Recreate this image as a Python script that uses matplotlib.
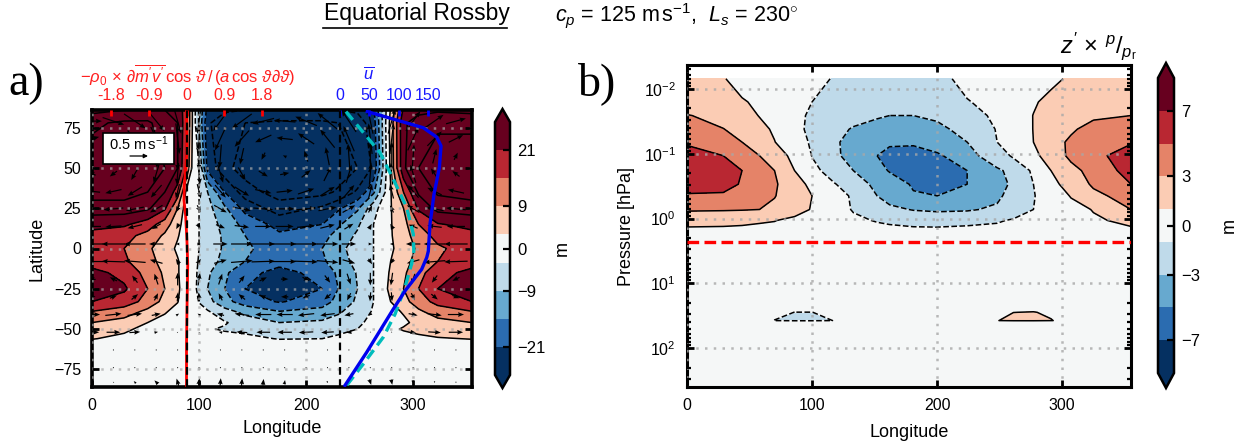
import numpy as np
import matplotlib
matplotlib.use("Agg")
import matplotlib.pyplot as plt
from matplotlib.colors import ListedColormap, BoundaryNorm
from matplotlib.lines import Line2D
from matplotlib.patches import Rectangle
from matplotlib.ticker import LogLocator, NullFormatter

plt.rcParams["font.family"] = ["Liberation Sans", "DejaVu Sans"]
plt.rcParams["mathtext.fontset"] = "custom"
plt.rcParams["mathtext.rm"] = "Liberation Sans"
plt.rcParams["mathtext.it"] = "Liberation Sans:italic"
plt.rcParams["mathtext.bf"] = "Liberation Sans:bold"
plt.rcParams["mathtext.fallback"] = "cm"

W, H = 1242.0, 447.0

colours = ["#053061", "#2b6cb0", "#67a9cf", "#bfdaea", "#f5f7f7", "#fbccb4", "#e58368", "#b92732", "#67001f"]
levels_a = [-27, -21, -15, -9, -3, 3, 9, 15, 21, 27]
lines_a = [-33, -27, -21, -15, -9, -3, 3, 9, 15, 21, 27, 33]
ticks_a = [-21, -9, 0, 9, 21]
levels_b = [-9, -7, -5, -3, -1, 1, 3, 5, 7, 9]
lines_b = [-7, -5, -3, -1, 1, 3, 5, 7]
ticks_b = [-7, -3, 0, 3, 7]

# panel a, z' by latitude row
lon_a = [0, 30, 52, 68, 80, 88, 95, 100, 108, 124, 143, 175, 215, 230, 248, 263, 276, 291, 305, 323, 355]
lat_a = [86, 78, 50, 35, 25, 15, 8, 0, -8, -15, -25, -33, -39, -46, -50, -56, -60, -75, -86]
za_86 = [25, 27, 28, 27, 26, 17, 0, -10, -23, -26, -27, -28, -28, -27, -26, -22, -1, 22, 25, 26, 25]
za_78 = [32, 34, 34, 30, 27, 17, 0, -10, -26, -31, -33, -34, -34, -33, -30, -24, 0, 26, 30, 32, 32]
za_50 = [36, 38, 37, 33, 27, 15, -1, -3, -23, -31, -36, -38, -38, -37, -33, -26, -1, 26, 33, 36, 36]
za_35 = [36, 36, 33, 27, 18, 2, -1, -3, -9, -21, -30, -36, -35, -32, -26, -16, -0.5, 15, 28, 34, 36]
za_25 = [30, 30, 28, 22, 9, 0, -1, -3, -7, -14, -23, -30, -26, -22, -16, -5, 1, 9, 22, 29, 30]
za_15 = [23, 22, 18, 12, 5, 0, -1, -3, -6, -11, -17, -23, -21, -16, -10, -3, 1.5, 7, 15, 20.5, 23]
za_08 = [19, 17, 13, 8, 3.5, 0, -1, -3, -5.5, -10, -15, -20, -17, -13, -8, -3, 1.5, 6.5, 12, 17, 19]
za_00 = [18, 15, 10, 6, 2, 0, -1, -3, -5, -10, -14, -18, -15, -11, -6, -3, 1, 6, 10, 14, 18]
za_m08 = [18, 16, 11, 7, 3.5, 0, -1, -3.5, -6, -11, -15, -19, -16, -12, -7, -3, 2, 7, 11, 15, 18]
za_m15 = [23, 19, 13, 8, 3.5, 0, -1.5, -4, -8, -14, -19, -23, -19, -14, -8.5, -3, 2.5, 8, 13, 18.5, 23]
za_m25 = [26, 22, 15, 9, 4, 0, -2, -4, -9, -15, -21, -26, -21, -15, -9, -3, 3, 9, 15, 21, 26]
za_m33 = [21, 18, 13, 7, 3.2, 0, -1, -3.2, -7, -13, -18, -21.5, -18, -13, -8, -3, 2, 7, 12, 17, 21]
za_m39 = [15, 12.5, 7.5, 3.5, 1.5, 0, -0.5, -1.5, -2.5, -7, -11, -15, -13, -10, -6, -2.5, 1, 3.5, 8, 12, 15]
za_m46 = [9, 6.5, 3, 1.5, 0.6, 0, -0.2, -0.5, -1, -2.5, -5.5, -9, -8, -6.5, -4, -1.5, 0.5, 2, 4.5, 7, 9]
za_m50 = [6, 3.8, 1.8, 1, 0.4, 0, -0.1, -0.3, -2.5, -3.6, -4, -6, -5.5, -4.5, -3, -0.8, 1.5, 3.5, 4.5, 5.5, 6]
za_m56 = [3.2, 2, 1, 0.5, 0.2, 0, 0, -0.2, -0.5, -1, -2, -3.2, -3, -2, -1, -0.4, 0.1, 0.8, 1.8, 2.6, 3.2]
za_m60 = [1, 0.7, 0.4, 0.2, 0.1, 0, 0, -0.1, -0.2, -0.4, -0.7, -1, -1, -0.7, -0.4, -0.1, 0, 0.3, 0.6, 0.8, 1]
za_m75 = [0.3, 0.2, 0.1, 0.1, 0, 0, 0, 0, -0.1, -0.1, -0.2, -0.3, -0.3, -0.2, -0.1, 0, 0, 0.1, 0.2, 0.2, 0.3]
za_m86 = [0.2, 0.2, 0.1, 0.1, 0, 0, 0, 0, -0.1, -0.1, -0.2, -0.2, -0.2, -0.2, -0.1, 0, 0, 0.1, 0.1, 0.2, 0.2]
z_a = [za_86, za_78, za_50, za_35, za_25, za_15, za_08, za_00, za_m08, za_m15, za_m25, za_m33,
       za_m39, za_m46, za_m50, za_m56, za_m60, za_m75, za_m86]

# panel a, wind arrows
lon_q = [0, 20, 40, 60, 80, 100, 120, 140, 160, 180, 200, 220, 240, 260, 280, 300, 320, 340]
lat_q = [79.1, 68.2, 57.3, 46.4, 35.5, 24.6, 13.7, 2.8, -8.1, -19, -30, -41, -52, -63, -74, -83]
u_79 = [.55, .6, .6, .45, .2, -.1, -.4, -.55, -.6, -.6, -.6, -.55, -.4, -.15, .2, .4, .5, .55]
v_79 = [0, -.2, -.4, -.55, -.7, -.7, -.55, -.4, -.15, .05, .25, .45, .6, .7, .7, .55, .35, .15]
u_68 = [.4, .45, .4, .3, .1, -.05, -.3, -.4, -.45, -.45, -.45, -.4, -.3, -.1, .1, .3, .4, .4]
v_68 = [.1, -.2, -.45, -.65, -.85, -.85, -.65, -.45, -.2, .05, .3, .5, .7, .85, .85, .65, .4, .2]
u_57 = [.1, .1, .1, .05, 0, 0, -.05, -.1, -.1, -.1, -.1, -.1, -.05, 0, 0, .05, .1, .1]
v_57 = [.1, -.2, -.45, -.65, -.8, -.8, -.65, -.45, -.2, .05, .3, .5, .7, .8, .8, .65, .4, .2]
u_46 = [-.2, -.2, -.2, -.15, -.05, .05, .15, .2, .25, .25, .25, .2, .15, .05, -.05, -.15, -.2, -.2]
v_46 = [.08, -.15, -.35, -.5, -.6, -.6, -.5, -.35, -.15, .05, .2, .4, .5, .6, .6, .5, .3, .15]
u_35 = [-.45, -.45, -.4, -.3, -.1, .1, .3, .4, .45, .45, .45, .4, .3, .1, -.1, -.3, -.4, -.45]
v_35 = [.05, -.1, -.25, -.35, -.4, -.4, -.35, -.25, -.1, .05, .15, .25, .35, .4, .4, .35, .2, .1]
u_24 = [-.55, -.55, -.5, -.35, -.1, .1, .35, .5, .55, .55, .55, .5, .35, .1, -.1, -.35, -.5, -.55]
v_24 = [0, -.05, -.1, -.2, -.2, -.2, -.2, -.1, -.05, 0, .05, .1, .2, .2, .2, .2, .1, .05]
u_13 = [-.5, -.45, -.4, -.25, -.08, .08, .25, .4, .45, .5, .5, .4, .25, .08, -.08, -.25, -.4, -.5]
v_13 = [0, -.03, -.1, -.15, -.15, -.15, -.1, -.05, 0, 0, .05, .1, .15, .15, .15, .1, .05, 0]
u_02 = [-.65, -.65, -.6, -.4, -.1, .1, .4, .6, .65, .65, .65, .6, .4, .1, -.1, -.4, -.6, -.65]
v_02 = [0, 0, 0, 0, 0, 0, 0, 0, 0, 0, 0, 0, 0, 0, 0, 0, 0, 0]
u_m08 = [-.65, -.65, -.6, -.35, -.1, .1, .35, .6, .65, .65, .65, .6, .35, .1, -.1, -.35, -.6, -.65]
v_m08 = [0, .02, .05, .1, .15, .15, .1, .05, .02, 0, -.02, -.05, -.1, -.15, -.15, -.1, -.05, -.02]
u_m19 = [-.2, -.2, -.15, -.1, 0, .05, .1, .15, .2, .2, .2, .15, .1, 0, -.05, -.1, -.15, -.2]
v_m19 = [.02, .1, .2, .3, .35, .35, .3, .2, .1, 0, -.1, -.2, -.3, -.35, -.35, -.3, -.2, -.1]
u_m30 = [.2, .2, .18, .1, .02, -.02, -.1, -.18, -.2, -.2, -.2, -.18, -.1, -.02, .02, .1, .18, .2]
v_m30 = [.02, .08, .15, .2, .25, .25, .2, .15, .08, 0, -.08, -.15, -.2, -.25, -.25, -.2, -.15, -.08]
u_m41 = [.45, .45, .4, .25, .08, -.08, -.2, -.4, -.45, -.45, -.45, -.4, -.25, -.08, .08, .25, .4, .45]
v_m41 = [0, .05, .05, .05, .05, .05, .05, .05, 0, 0, -.05, -.05, -.05, -.05, -.05, -.05, -.05, 0]
u_m52 = [.4, .38, .3, .1, .03, -.03, -.1, -.3, -.38, -.4, -.4, -.35, -.15, -.03, .03, .15, .35, .4]
v_m52 = [0, 0, .02, .02, .02, .02, .02, .02, 0, 0, -.02, -.02, -.02, -.02, -.02, -.02, -.02, 0]
u_m63 = [.02, .02, .02, .01, .01, -.01, -.01, -.02, -.02, -.02, -.02, -.02, -.01, -.01, .01, .01, .02, .02]
v_m63 = [0, 0, 0, 0, 0, 0, 0, 0, 0, 0, 0, 0, 0, 0, 0, 0, 0, 0]
u_m74 = [.03, .03, .02, .02, .01, -.01, -.02, -.02, -.03, -.03, -.03, -.02, -.02, -.01, .01, .02, .02, .03]
v_m74 = [0, 0, .01, .01, .01, .01, .01, .01, 0, 0, -.01, -.01, -.01, -.01, -.01, -.01, -.01, 0]
u_m85 = [0, -.03, -.06, -.1, -.06, .02, .02, .02, .02, .02, .02, .03, .05, .05, .03, .02, 0, 0]
v_m85 = [.02, .02, .06, .1, .2, .22, .22, .22, .18, .12, .04, -.05, -.1, -.15, -.15, -.1, -.05, 0]
u_q = [u_79, u_68, u_57, u_46, u_35, u_24, u_13, u_02, u_m08, u_m19, u_m30, u_m41, u_m52, u_m63, u_m74, u_m85]
v_q = [v_79, v_68, v_57, v_46, v_35, v_24, v_13, v_02, v_m08, v_m19, v_m30, v_m41, v_m52, v_m63, v_m74, v_m85]

# panel a, zonal mean wind and phase speed curve, plus the eddy term
lat_u = [85, 75, 69.2, 63.7, 50, 33.7, 15.2, -1.7, -5.6, -12.9, -26.3, -37.6, -51, -64.4, -85]
u_mean = [46.6, 142, 165, 172.4, 169.5, 160.4, 153.6, 150.7, 148, 139.4, 111, 91, 68.3, 45.6, 8.5]
lat_c = [85, 72, 59.5, 43, 25.5, 9, -1.7, -9.8, -24, -40.7, -55, -71.6, -85]
u_c = [10.2, 39.8, 68.3, 91, 113.8, 125, 126, 122, 111, 94, 74, 40, 11.4]
lat_r = [85, 60, 50, 40, 30, 20, 5, -10, -25, -40, -60, -85]
eddy = [0, 0.01, -0.02, -0.05, -0.06, -0.02, 0.01, 0.03, 0.02, 0.01, 0, 0]

# panel b, z' scaled by pressure, one row per pressure level
lon_b = [0, 29, 44, 58, 70, 86, 100, 118, 133, 152, 162, 181, 200, 224, 248, 261, 277, 291, 307, 325, 355]
logp_b = [-2.157, -1.8, -1.59, -1.38, -1.18, -0.97, -0.74, -0.53, -0.35, -0.14, 0.03, 0.13, 0.34,
          1.2, 1.32, 1.447, 1.575, 1.58, 2.6]
zb_1 = [1.5, 1.05, .7, .4, .2, -.2, -.6, -1.1, -1.3, -1.5, -1.6, -1.6, -1.2, -.8, -.5, -.3, .1, .7, 1.2, 1.4, 1.5]
zb_2 = [2, 1.6, 1.1, .8, .5, -.5, -1, -1.4, -1.7, -2, -2.2, -2.4, -2, -1.05, -.7, -.4, .8, 1.5, 1.8, 2, 2]
zb_3 = [3.1, 2.4, 1.5, .95, .6, -.5, -1.3, -1.8, -2.3, -2.8, -3, -3, -2.7, -1.6, -.7, -.3, 1.05, 1.9, 2.4, 2.8, 3]
zb_4 = [3.8, 3.05, 2.3, 1.4, .8, -.4, -1.5, -2.3, -3.2, -3.8, -4, -4, -3.5, -2.3, -.9, -.4, 1.05, 2.1, 2.8, 3.5, 3.9]
zb_5 = [4.8, 3.9, 3, 2, 1.05, -.3, -1.2, -2.8, -3.5, -4.4, -4.8, -4.8, -4.2, -3, -1, -.6, 1, 2.3, 3.3, 4.2, 4.9]
zb_6 = [5.8, 5, 4, 3, 1.9, .5, -1.05, -2.7, -3.6, -5, -5.5, -5.7, -5.3, -3.8, -1.7, -.8, .5, 1.9, 3.4, 4.6, 5.7]
zb_7 = [6.5, 5.7, 5, 4, 3, 1, -.5, -1.8, -3, -4.5, -5.1, -6, -6, -5, -3.4, -2.3, -.7, 1, 2.3, 3.8, 5.7]
zb_8 = [6, 5.4, 4.9, 4, 3.3, 1.5, .7, -.9, -2, -3.5, -4.1, -5.2, -5.8, -5, -3.4, -2.8, -1, .5, 1.7, 3.3, 5]
zb_9 = [4.7, 4.8, 4.3, 3.6, 3.1, 1.7, 1, -.4, -1.2, -3, -3.6, -4.8, -5, -4.4, -3.3, -2.4, -1.1, -.1, 1.1, 2.4, 4]
zb_10 = [3.2, 3.15, 3.1, 3, 2.4, 1.6, .9, -.4, -1.1, -2.1, -2.6, -3.1, -3.3, -3.2, -2.7, -1.9, -1, -.5, .3, 1.1, 3]
zb_11 = [1.6, 1.5, 1.3, 1.15, 1.05, .6, .3, -.2, -.7, -1.1, -1.3, -1.5, -1.6, -1.4, -1.2, -.8, -.5, -.2, .1, .7, 1.5]
zb_12 = [1, .95, .9, .8, .7, .4, .1, -.1, -.4, -.7, -.8, -.98, -1.01, -.9, -.7, -.5, -.3, -.1, .1, .4, .95]
zb_13 = [.3, .3, .2, .2, .1, .1, 0, 0, -.1, -.2, -.2, -.3, -.3, -.3, -.2, -.1, -.1, 0, 0, .1, .3]
zb_14 = [0, 0, 0, 0, 0, 0, 0, 0, 0, 0, 0, 0, 0, 0, 0, 0, 0, 0, 0, 0, 0]
zb_15 = [0, 0, 0, 0, 0, 0, 0, 0, 0, 0, 0, 0, 0, 0, 0, 0, 0, 0, 0, 0, 0]
zb_16 = [0, 0, 0, 0, -.5, -1.02, -1.02, -.5, 0, 0, 0, 0, 0, 0, .3, .98, 1.08, .7, .1, 0, 0]
zb_17 = [0, 0, 0, 0, -1.05, -2, -2, -.9, 0, 0, 0, 0, 0, 0, .9, 1.8, 2, 1.1, .2, 0, 0]
zb_18 = [0, 0, 0, 0, 0, 0, 0, 0, 0, 0, 0, 0, 0, 0, 0, 0, 0, 0, 0, 0, 0]
zb_19 = [0, 0, 0, 0, 0, 0, 0, 0, 0, 0, 0, 0, 0, 0, 0, 0, 0, 0, 0, 0, 0]
z_b = [zb_1, zb_2, zb_3, zb_4, zb_5, zb_6, zb_7, zb_8, zb_9, zb_10, zb_11, zb_12, zb_13,
       zb_14, zb_15, zb_16, zb_17, zb_18, zb_19]
p_tropo = 10 ** 0.355


def box(x0, y0, x1, y1):
    return [x0 / W, 1 - y1 / H, (x1 - x0) / W, (y1 - y0) / H]


def add_cbar(fig, mappable, rect, ticks, frac, pad):
    cax = fig.add_axes(rect)
    cb = fig.colorbar(mappable, cax=cax, extend="both", extendfrac=frac, ticks=ticks, drawedges=False)
    cb.outline.set_linewidth(1.8)
    cb.ax.tick_params(direction="in", length=5, width=1.6, labelsize=12, pad=5, which="major")
    cb.ax.minorticks_off()
    cb.set_label("m", fontsize=13, labelpad=pad)
    return cb


cmap = ListedColormap(colours)
cmap.set_under(colours[0])
cmap.set_over(colours[-1])

fig = plt.figure(figsize=(12.42, 4.47), dpi=100)

# ------ panel a
ax = fig.add_axes(box(92, 110, 472, 387))
norm_a = BoundaryNorm(levels_a, cmap.N)
cf = ax.contourf(lon_a, lat_a, z_a, levels=levels_a, cmap=cmap, norm=norm_a, extend="both", zorder=1)
ax.contour(lon_a, lat_a, z_a, levels=lines_a, colors="k", linewidths=1.1, zorder=1.2)
ax.quiver(lon_q, lat_q, u_q, v_q, units="dots", angles="uv", scale_units="inches", scale=2.78,
          width=1.2, headwidth=4, headlength=5, headaxislength=4.5, pivot="mid", color="k", zorder=1.5)
ax.set_xlim(0, 355)
ax.set_ylim(-86, 86)
ax.set_xticks([0, 100, 200, 300])
ax.set_yticks([-75, -50, -25, 0, 25, 50, 75])
ax.tick_params(direction="in", length=5, width=2, labelsize=11.5, right=True, pad=8)
ax.grid(True, ls=(0, (1, 2.5)), color="#a8a8a8", lw=1.8, alpha=0.7, zorder=2)
ax.set_axisbelow(False)
ax.set_xlabel("Longitude", fontsize=13, labelpad=5)
ax.set_ylabel("Latitude", fontsize=13, labelpad=6)
for s in ax.spines.values():
    s.set_linewidth(2.6)

# quiver key box
kx0, ky0 = (103 - 92) / 380, (387 - 164) / 277
ax.add_patch(Rectangle((kx0, ky0), 71 / 380, 31 / 277, transform=ax.transAxes, fc="w", ec="k", lw=1.2, zorder=4))
ax.text(kx0 + 35.5 / 380, ky0 + 20.5 / 277, r"0.5 m$\,$s$^{-1}$", transform=ax.transAxes, ha="center", va="center",
        fontsize=10.5, zorder=5)
ax.annotate("", xy=(kx0 + 45 / 380, ky0 + 8 / 277), xytext=(kx0 + 27 / 380, ky0 + 8 / 277), xycoords="axes fraction",
            textcoords="axes fraction", arrowprops=dict(arrowstyle="-|>", lw=0.9, color="k", mutation_scale=6,
                                                        shrinkA=0, shrinkB=0), zorder=5)

# red axis on top
ax_r = ax.twiny()
ax_r.set_xlim((92 - 186.5) * 0.02394, (472 - 186.5) * 0.02394)
ax_r.set_xticks([-1.8, -0.9, 0, 0.9, 1.8])
ax_r.set_xticklabels(["-1.8", "-0.9", "0", "0.9", "1.8"], color="#ff2020", fontsize=11.5)
ax_r.tick_params(axis="x", direction="in", length=4, width=2, color="red", pad=5)
ax_r.plot(eddy, lat_r, color="red", lw=2, zorder=3)
ax_r.axvline(0, color="k", ls=(0, (3.5, 2)), lw=1.6, zorder=3.5)
ax_r.patch.set_visible(False)
for s in ax_r.spines.values():
    s.set_visible(False)

# blue axis on top
ax_u = ax.twiny()
ax_u.set_xlim((92 - 340) / 0.586, (472 - 340) / 0.586)
ax_u.set_xticks([0, 50, 100, 150])
ax_u.set_xticklabels(["0", "50", "100", "150"], color="#1818ff", fontsize=11.5)
ax_u.tick_params(axis="x", direction="in", length=4, width=2, color="blue", pad=5)
ax_u.axvline(0, color="k", ls=(0, (3.5, 2)), lw=1.6, zorder=2)
ax_u.plot(u_c, lat_c, color="#00bdbd", lw=2.4, ls=(0, (3.2, 1.8)), zorder=3)
ax_u.plot(u_mean, lat_u, color="#0000ee", lw=2.4, zorder=3.2)
ax_u.patch.set_visible(False)
for s in ax_u.spines.values():
    s.set_visible(False)
ax_u.set_ylim(-86, 86)
ax_r.set_ylim(-86, 86)

fig.text(187.5 / W, 1 - 75 / H, r"$-\rho_0\,\times\,\partial\overline{m'v'}\,\cos\,\vartheta\,/\,(a\,\cos\,\vartheta\partial\vartheta)$",
         color="#ff2020", fontsize=12, ha="center", va="center")
fig.text(369 / W, 1 - 74 / H, r"$\overline{u}$", color="#1818ff", fontsize=12, ha="center", va="center")
fig.text(8 / W, 1 - 95 / H, "a)", family="Liberation Serif", fontsize=33, ha="left", va="baseline")

add_cbar(fig, cf, box(495, 109, 510, 388), ticks_a, 13 / 253, 6)

# ------ panel b
bx = fig.add_axes(box(687, 65, 1131, 387))
norm_b = BoundaryNorm(levels_b, cmap.N)
p_b = 10.0 ** np.array(logp_b)
cf2 = bx.contourf(lon_b, p_b, z_b, levels=levels_b, cmap=cmap, norm=norm_b, extend="both", zorder=1)
bx.contour(lon_b, p_b, z_b, levels=lines_b, colors="k", linewidths=1.1, zorder=1.2)
bx.set_yscale("log")
bx.set_xlim(0, 355)
bx.set_ylim(10 ** 2.6, 10 ** -2.37)
bx.set_xticks([0, 100, 200, 300])
bx.yaxis.set_major_locator(LogLocator(base=10, numticks=12))
bx.yaxis.set_minor_locator(LogLocator(base=10, subs=range(2, 10), numticks=12))
bx.yaxis.set_minor_formatter(NullFormatter())
bx.tick_params(which="major", direction="in", length=5, width=2, labelsize=11.5, right=True, top=True, pad=8)
bx.tick_params(which="minor", direction="in", length=3, width=1.6, right=True)
bx.grid(True, which="major", ls=(0, (1, 2.5)), color="#a8a8a8", lw=1.8, alpha=0.8, zorder=2)
bx.set_axisbelow(False)
bx.axhline(p_tropo, color="red", ls=(0, (3.5, 1.6)), lw=2.4, zorder=3)
bx.set_xlabel("Longitude", fontsize=13, labelpad=8)
bx.set_ylabel("Pressure [hPa]", fontsize=13, labelpad=6)
for s in bx.spines.values():
    s.set_linewidth(2.2)

fig.text(578 / W, 1 - 95 / H, "b)", family="Liberation Serif", fontsize=33, ha="left", va="baseline")
fig.text(1060 / W, 1 - 46 / H, r"$z'\,\times\,{}^{p}/{}_{p_{\mathrm{r}}}$", fontsize=17, ha="left", va="center")

add_cbar(fig, cf2, box(1158, 63, 1174, 388), ticks_b, 15 / 297, 15)

# ------ title
fig.text(324 / W, 1 - 20 / H, "Equatorial Rossby", fontsize=16.5, ha="left", va="baseline")
fig.add_artist(Line2D([323 / W, 507 / W], [1 - 27.5 / H, 1 - 27.5 / H], color="k", lw=1.2))
fig.text(555 / W, 1 - 21 / H, r"$c_p$ = 125 m$\,$s$^{-1}$,  $L_s$ = 230$^{\circ}$", fontsize=15.5, ha="left", va="baseline")

fig.savefig("out.png", dpi=100)
